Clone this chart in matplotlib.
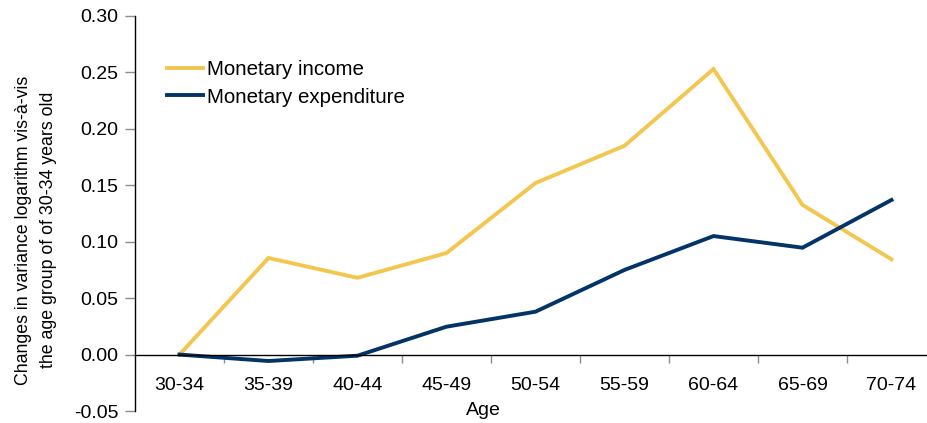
import matplotlib
matplotlib.use("Agg")
import matplotlib.pyplot as plt
from matplotlib.ticker import FixedLocator, FormatStrFormatter

plt.rcParams['font.family'] = ['Liberation Sans', 'DejaVu Sans']

ages = ['30-34', '35-39', '40-44', '45-49', '50-54', '55-59', '60-64', '65-69', '70-74']
income = [0.000, 0.0856, 0.068, 0.090, 0.152, 0.185, 0.253, 0.1326, 0.0844]
expenditure = [0.000, -0.0057, -0.001, 0.0247, 0.038, 0.075, 0.105, 0.0947, 0.137]

YELLOW = '#F3C64F'
NAVY = '#023466'
GREY = '#8C8C8C'

fig = plt.figure(figsize=(9.27, 4.23), dpi=100)
ax = fig.add_axes([135 / 927, 12 / 423, 801 / 927, 395 / 423])

x = list(range(len(ages)))
ax.plot(x, income, color=YELLOW, lw=2.8, label='Monetary income', solid_joinstyle='miter')
ax.plot(x, expenditure, color=NAVY, lw=2.8, label='Monetary expenditure', solid_joinstyle='miter')

ax.set_xlim(-0.5, len(ages) - 0.5)
ax.set_ylim(-0.05, 0.30)
ax.set_yticks([-0.05, 0.0, 0.05, 0.10, 0.15, 0.20, 0.25, 0.30])
ax.yaxis.set_major_formatter(FormatStrFormatter('%.2f'))

# x axis sits on the zero line, ticks between the categories
ax.spines['bottom'].set_position(('data', 0))
ax.spines['top'].set_visible(False)
ax.spines['right'].set_visible(False)
ax.spines['left'].set_color('black')
ax.spines['bottom'].set_color('black')
ax.spines['left'].set_linewidth(1.0)
ax.spines['bottom'].set_linewidth(1.0)

ax.set_xticks(x)
ax.set_xticklabels(ages)
ax.xaxis.set_minor_locator(FixedLocator([i + 0.5 for i in x[:-1]]))
ax.tick_params(axis='x', which='major', length=0, pad=16, labelsize=14)
ax.tick_params(axis='x', which='minor', length=6, width=1, color=GREY, direction='out')
ax.tick_params(axis='y', which='major', length=7, width=1, color=GREY, pad=5, labelsize=14)

ax.set_ylabel('Changes in variance logarithm vis-à-vis\nthe age group of of 30-34 years old',
              fontsize=12.8, linespacing=1.65)
ax.yaxis.set_label_coords(-0.097, 0.458)
fig.text(483 / 927, 1 - 410 / 423, 'Age', fontsize=14, ha='center', va='center')

ax.legend(loc='upper left', bbox_to_anchor=(0.03, 0.91), frameon=False, fontsize=14.8,
          handlelength=1.75, handletextpad=0.2, labelspacing=0.43, borderaxespad=0)

fig.savefig('out.png', dpi=100)
